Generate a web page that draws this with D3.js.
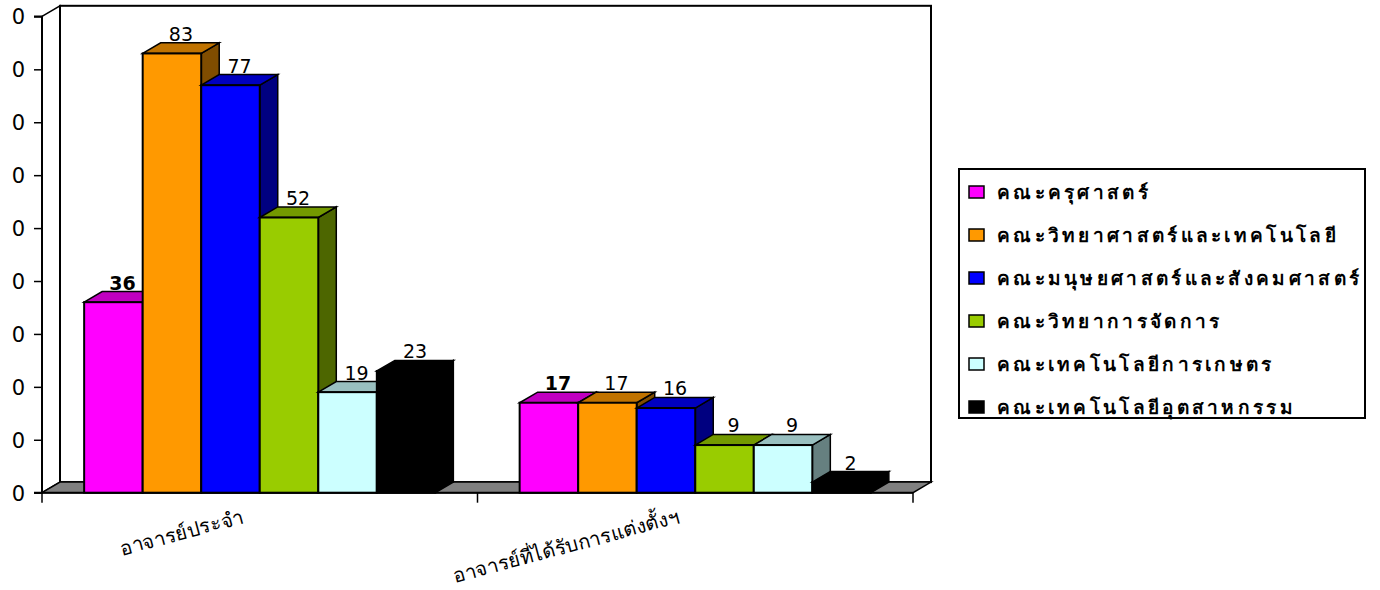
<!DOCTYPE html>
<html><head><meta charset="utf-8">
<script src="https://cdn.jsdelivr.net/npm/d3@7/dist/d3.min.js"></script>
<style>
html,body{margin:0;padding:0;background:#fff;}
svg{display:block;}
</style></head>
<body>
<svg id="chart" width="1380" height="590"></svg>
<script>
// ---- data ----
const categories = ["อาจารย์ประจำ", "อาจารย์ที่ได้รับการแต่งตั้งฯ"];
const seriesNames = ["คณะครุศาสตร์", "คณะวิทยาศาสตร์และเทคโนโลยี", "คณะมนุษยศาสตร์และสังคมศาสตร์", "คณะวิทยาการจัดการ", "คณะเทคโนโลยีการเกษตร", "คณะเทคโนโลยีอุตสาหกรรม"];
const valuesPermanent = [36, 83, 77, 52, 19, 23];
const valuesAppointed = [17, 17, 16, 9, 9, 2];
const yTickValues = [0, 10, 20, 30, 40, 50, 60, 70, 80, 90];

// ---- styles ----
const front = ["#FF00FF", "#FF9900", "#0000FF", "#99CC00", "#CCFFFF", "#000000"];
const topC  = ["#C000C0", "#C07300", "#0000C0", "#739900", "#99BFBF", "#000000"];
const sideC = ["#800080", "#804D00", "#000080", "#4D6600", "#668080", "#000000"];
const boldLabel = [true, false, false, false, false, false];
const numFont = "DejaVu Sans, Verdana, sans-serif";
const thaiFont = "Noto Sans, Tahoma, sans-serif";

const svg = d3.select("#chart");
const X0 = 42, X1 = 913, dx = 18, dy = -10.6;
const y = d3.scaleLinear().domain([0, 90]).range([492.7, 16.4]);
const x0 = d3.scaleBand().domain(categories).range([X0, X1]).paddingInner(0).paddingOuter(0);
const x1 = d3.scaleBand().domain(seriesNames).range([0, x0.bandwidth()]).paddingInner(0).paddingOuter(0.72);
const yb = y(0), yt = y(90);

// walls
svg.append("polygon")
  .attr("points", [[X0, yt], [X0 + dx, yt + dy], [X0 + dx, yb + dy], [X0, yb]].join(" "))
  .attr("fill", "#fff").attr("stroke", "#000").attr("stroke-width", 1.5);
svg.append("rect")
  .attr("x", X0 + dx).attr("y", yt + dy).attr("width", X1 - X0).attr("height", yb - yt)
  .attr("fill", "#fff").attr("stroke", "#000").attr("stroke-width", 2);
// floor
svg.append("polygon")
  .attr("points", [[X0, yb], [X0 + dx, yb + dy], [X1 + dx, yb + dy], [X1, yb]].join(" "))
  .attr("fill", "#808080").attr("stroke", "#000").attr("stroke-width", 1.5);

// y axis (labels cropped to their last digit, as in the reference)
const yAxis = d3.axisLeft(y).tickValues(yTickValues).tickSize(8).tickPadding(9)
  .tickFormat(d => String(d).slice(-1));
const gy = svg.append("g").attr("transform", `translate(${X0},0)`).call(yAxis);
gy.attr("font-family", numFont).attr("font-size", 21);
gy.select(".domain").attr("stroke-width", 2).attr("d", `M-8,${yt}H0V${yb}H-8`);
gy.selectAll(".tick line").attr("stroke-width", 1.5);
gy.selectAll(".tick text").attr("fill", "#000").attr("dy", "0.36em");

// x axis line + ticks
svg.append("line").attr("x1", X0).attr("x2", X1).attr("y1", yb).attr("y2", yb)
  .attr("stroke", "#000").attr("stroke-width", 2);
const bounds = [X0].concat(categories.map(c => x0(c) + x0.bandwidth()));
svg.selectAll(".xt").data(bounds).enter().append("line")
  .attr("x1", d => d).attr("x2", d => d).attr("y1", yb).attr("y2", yb + 10)
  .attr("stroke", "#000").attr("stroke-width", 1.5);

// bars
const groups = [valuesPermanent, valuesAppointed];
const bw = x1.bandwidth();
groups.forEach((vals, gi) => {
  const cat = categories[gi];
  const g = svg.append("g");
  vals.forEach((v, si) => {
    const xl = x0(cat) + x1(seriesNames[si]);
    const xr = xl + bw;
    const ty = y(v);
    g.append("text")
      .attr("x", (xl + xr) / 2 + dx / 2).attr("y", ty + dy - 2)
      .attr("text-anchor", "middle")
      .style("font-family", numFont)
      .style("font-size", "19px")
      .style("font-weight", boldLabel[si] ? "bold" : "normal")
      .text(v);
    g.append("polygon")
      .attr("points", [[xr, ty], [xr + dx, ty + dy], [xr + dx, yb + dy], [xr, yb]].join(" "))
      .attr("fill", sideC[si]).attr("stroke", "#000").attr("stroke-width", 1.5);
    g.append("polygon")
      .attr("points", [[xl, ty], [xl + dx, ty + dy], [xr + dx, ty + dy], [xr, ty]].join(" "))
      .attr("fill", topC[si]).attr("stroke", "#000").attr("stroke-width", 1.5);
    g.append("rect")
      .attr("x", xl).attr("y", ty).attr("width", bw).attr("height", yb - ty)
      .attr("fill", front[si]).attr("stroke", "#000").attr("stroke-width", 2);
  });
});

// category labels (rotated, ending just left of the group centre)
svg.selectAll(".xl").data(categories).enter().append("text")
  .attr("transform", d => {
    const cx = x0(d) + x0.bandwidth() / 2;
    return `translate(${cx - 15},${yb + 30}) rotate(-15)`;
  })
  .attr("text-anchor", "end")
  .style("font-family", thaiFont)
  .style("font-size", "20px")
  .text(d => d);

// legend
const lg = svg.append("g");
lg.append("rect").attr("x", 959).attr("y", 169).attr("width", 406).attr("height", 249)
  .attr("fill", "#fff").attr("stroke", "#000").attr("stroke-width", 2);
seriesNames.forEach((s, i) => {
  const cy = 192 + i * 43;
  lg.append("rect").attr("x", 969).attr("y", cy - 6).attr("width", 15).attr("height", 12)
    .attr("fill", front[i]).attr("stroke", "#000").attr("stroke-width", 1.5);
  lg.append("text").attr("x", 997).attr("y", cy + 7)
    .style("font-family", thaiFont)
    .style("font-size", "19px").style("font-weight", "bold")
    .style("letter-spacing", "3.3px")
    .text(s);
});
</script>
</body></html>
